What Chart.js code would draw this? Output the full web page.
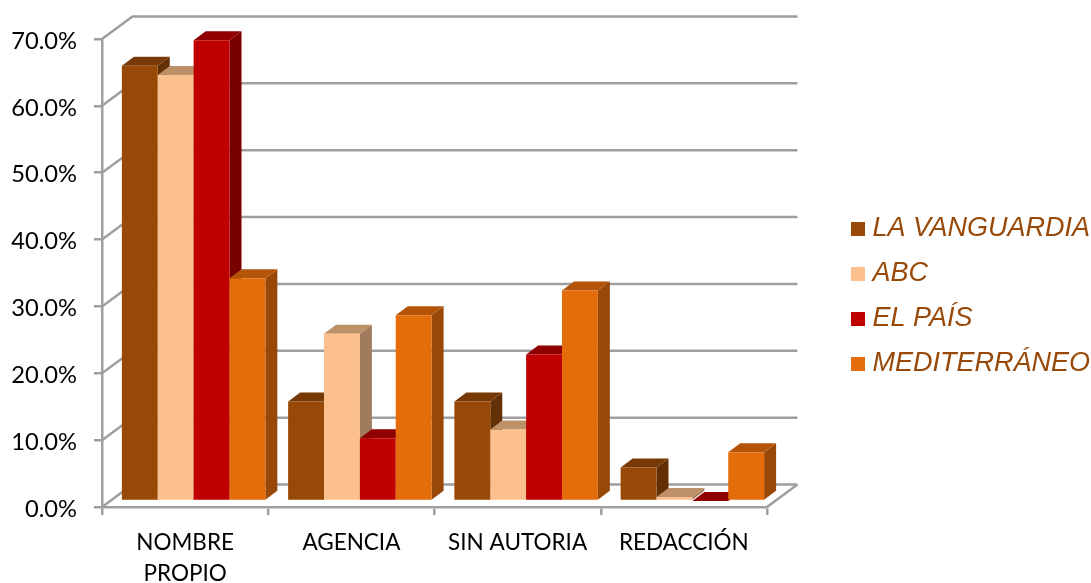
<!DOCTYPE html>
<html>
<head>
<meta charset="utf-8">
<style>
  html, body { margin: 0; padding: 0; background: #fff; }
  canvas { display: block; }
</style>
<script src="https://cdn.jsdelivr.net/npm/chart.js@4"></script>
</head>
<body>
<canvas id="main-chart" width="1091" height="583"></canvas>
<script>
const categories = [['NOMBRE', 'PROPIO'], 'AGENCIA', 'SIN AUTORIA', 'REDACCIÓN'];
const laVanguardia = [65.1, 14.9, 14.9, 5.0];
const abc = [63.7, 25.0, 10.7, 0.6];
const elPais = [68.9, 9.4, 21.9, 0.0];
const mediterraneo = [33.3, 27.8, 31.5, 7.3];
const yTicks = [0, 10, 20, 30, 40, 50, 60, 70];
const seriesNames = ['LA VANGUARDIA', 'ABC', 'EL PAÍS', 'MEDITERRÁNEO'];
const seriesValues = [laVanguardia, abc, elPais, mediterraneo];

const gridColor = '#9f9f9f';
const gridWidth = 2.5;
const labelFont = 'Lato, sans-serif';
const wallDepth = { x: 30.5, y: 22.5 };
const barShift = { x: 8.5, y: -6 };
const barDepth = { x: 12, y: 9 };

// front, top and side face colours
const faces = [
    { front: '#984807', top: '#773906', side: '#632f04' },
    { front: '#fcc08e', top: '#be9068', side: '#a07c5c' },
    { front: '#c00000', top: '#900000', side: '#7a0000' },
    { front: '#e46c0a', top: '#b35408', side: '#984807' }
];

function polygon(ctx, color, points) {
    ctx.fillStyle = color;
    ctx.beginPath();
    points.forEach((p, i) => i ? ctx.lineTo(p[0], p[1]) : ctx.moveTo(p[0], p[1]));
    ctx.closePath();
    ctx.fill();
}

function swatch(color) {
    const c = document.createElement('canvas');
    c.width = 14;
    c.height = 14;
    const g = c.getContext('2d');
    g.fillStyle = color;
    g.fillRect(0, 0, 14, 14);
    return c;
}

const walls3d = {
    id: 'walls3d',
    beforeLayout(chart) {
        const legend = chart.legend;
        if (legend.baseFit) return;
        legend.baseFit = legend.fit;
        legend.fit = function () {
            this.baseFit();
            this.width = 324; // leaves the gap between the floor and the legend
        };
    },
    afterLayout(chart) {
        const legend = chart.legend;
        legend.left = 839;
        legend.right = 1091;
        legend.top -= 15;
        legend.bottom -= 15;
    },
    beforeDatasetsDraw(chart) {
        const { ctx, chartArea, scales } = chart;
        ctx.save();
        ctx.strokeStyle = gridColor;
        ctx.lineWidth = gridWidth;
        ctx.beginPath();
        yTicks.forEach(t => {
            const y = scales.y.getPixelForValue(t);
            ctx.moveTo(chartArea.left, y);
            ctx.lineTo(chartArea.left + wallDepth.x, y - wallDepth.y);
            ctx.lineTo(chartArea.right + wallDepth.x, y - wallDepth.y);
        });
        ctx.moveTo(chartArea.right, chartArea.bottom);
        ctx.lineTo(chartArea.right + wallDepth.x, chartArea.bottom - wallDepth.y);
        ctx.stroke();
        ctx.restore();
    },
    // the library paints right to left, bars have to overlap left to right here
    beforeDatasetDraw() {
        return false;
    },
    afterDatasetsDraw(chart) {
        const ctx = chart.ctx;
        ctx.save();
        ctx.translate(barShift.x, barShift.y);
        seriesNames.forEach((name, i) => {
            const meta = chart.getDatasetMeta(i);
            meta.data.forEach(bar => {
                const l = bar.x - bar.width / 2;
                const r = bar.x + bar.width / 2;
                const dx = barDepth.x;
                const dy = barDepth.y;
                polygon(ctx, faces[i].side, [[r, bar.y], [r + dx, bar.y - dy], [r + dx, bar.base - dy], [r, bar.base]]);
                polygon(ctx, faces[i].top, [[l, bar.y], [l + dx, bar.y - dy], [r + dx, bar.y - dy], [r, bar.y]]);
            });
            meta.controller.draw();
        });
        ctx.restore();
    }
};

new Chart(document.getElementById('main-chart'), {
    type: 'bar',
    data: {
        labels: categories,
        datasets: seriesNames.map((name, i) => ({
            label: name,
            data: seriesValues[i],
            backgroundColor: faces[i].front,
            borderWidth: 0,
            categoryPercentage: 0.863,
            barPercentage: 1
        }))
    },
    options: {
        responsive: false,
        animation: false,
        layout: { padding: { top: 39 } },
        scales: {
            x: {
                afterFit(scale) { scale.height = 76; },
                border: { color: gridColor, width: gridWidth },
                grid: { color: gridColor, lineWidth: gridWidth, drawOnChartArea: false, tickLength: 8 },
                ticks: {
                    autoSkip: false,
                    maxRotation: 0,
                    padding: 12,
                    color: '#000',
                    font: { family: labelFont, size: 22.5, lineHeight: 1.38 }
                }
            },
            y: {
                min: 0,
                max: 70,
                afterFit(scale) { scale.width = 102; },
                afterBuildTicks(scale) { scale.ticks = yTicks.map(v => ({ value: v })); },
                border: { color: gridColor, width: gridWidth },
                grid: { color: gridColor, lineWidth: gridWidth, drawOnChartArea: false, tickLength: 8 },
                ticks: {
                    padding: 17,
                    labelOffset: 2,
                    color: '#000',
                    font: { family: labelFont, size: 23.7 },
                    callback: v => v.toFixed(1) + '%'
                }
            }
        },
        plugins: {
            title: { display: false },
            tooltip: { enabled: false },
            legend: {
                display: true,
                position: 'right',
                align: 'center',
                labels: {
                    usePointStyle: true,
                    pointStyleWidth: 2,
                    boxHeight: 14,
                    padding: 18,
                    color: '#984807',
                    font: { family: '"Liberation Sans", Arial, sans-serif', size: 27, style: 'italic' },
                    generateLabels(chart) {
                        return Chart.defaults.plugins.legend.labels.generateLabels(chart)
                            .map((item, i) => ({ ...item, pointStyle: swatch(faces[i].front) }));
                    }
                }
            }
        }
    },
    plugins: [walls3d]
});
</script>
</body>
</html>
